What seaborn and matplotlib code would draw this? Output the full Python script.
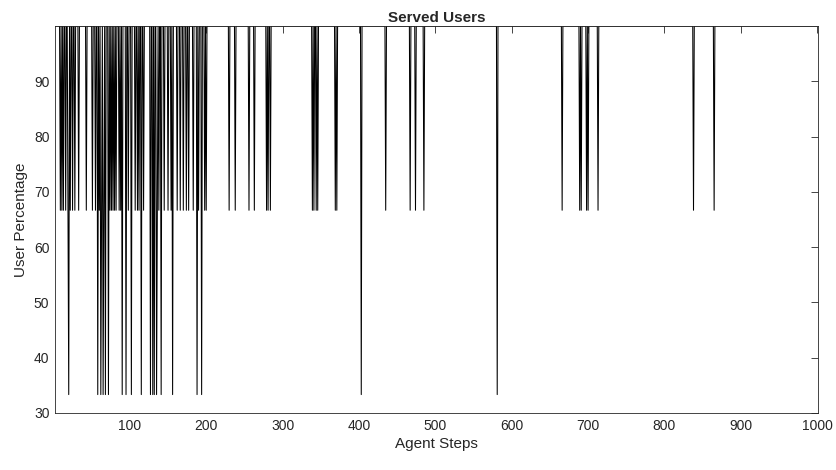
import numpy as np
import pandas as pd
import matplotlib
matplotlib.use("Agg")
import matplotlib.pyplot as plt
import seaborn as sns

# ---- data ----
n_steps = 1000
base_pct = 100.0
mid_pct = 66.67
low_pct = 33.33

# steps where the served-user percentage drops to 66.67 %
mid_dip_steps = [9, 11, 13, 16, 19, 22, 25, 28, 33, 43, 51, 55, 60, 63, 66,
                 74, 76, 78, 80, 82, 86, 88, 98, 107, 110, 112, 118, 136, 138,
                 145, 150, 154, 162, 166, 170, 174, 177, 183, 190, 198, 200,
                 230, 238, 256, 263, 279, 281, 284, 339, 341, 344, 346, 369,
                 371, 435, 467, 474, 485, 666, 689, 691, 698, 700, 713, 838,
                 865]
# steps where it drops to 33.33 %
low_dip_steps = [20, 58, 62, 65, 68, 72, 90, 95, 102, 115, 127, 130, 132, 135,
                 141, 156, 188, 194, 403, 581]

x_ticks = [100, 200, 300, 400, 500, 600, 700, 800, 900, 1000]
y_ticks = [30, 40, 50, 60, 70, 80, 90]

steps = np.arange(1, n_steps + 1)
pct = np.full(n_steps, base_pct)
pct[np.array(mid_dip_steps) - 1] = mid_pct
pct[np.array(low_dip_steps) - 1] = low_pct
df = pd.DataFrame({"Agent Steps": steps, "User Percentage": pct})

# ---- plotting ----
sns.set_theme(style="white")
plt.rcParams["font.family"] = ["Liberation Sans", "DejaVu Sans"]

fig = plt.figure(figsize=(8.37, 4.70), dpi=100)
ax = fig.add_axes([0.0657, 0.1213, 0.9116, 0.8234])

sns.lineplot(data=df, x="Agent Steps", y="User Percentage", ax=ax,
             color="black", linewidth=0.75, estimator=None)

ax.set_xlim(2, 1001)
ax.set_ylim(30, 100)
ax.set_xticks(x_ticks)
ax.set_yticks(y_ticks)
ax.set_xlabel("Agent Steps", fontsize=11, color="#262626", labelpad=3)
ax.set_ylabel("User Percentage", fontsize=11, color="#262626", labelpad=4)
ax.set_title("Served Users", fontsize=11, fontweight="bold", pad=3)

ax.tick_params(direction="in", top=True, right=True, length=5, width=0.6,
               color="#262626", labelsize=10, labelcolor="#262626", pad=4)
for sp in ax.spines.values():
    sp.set_visible(True)
    sp.set_color("#262626")
    sp.set_linewidth(0.6)

fig.savefig("out.png", dpi=100, facecolor="white")
